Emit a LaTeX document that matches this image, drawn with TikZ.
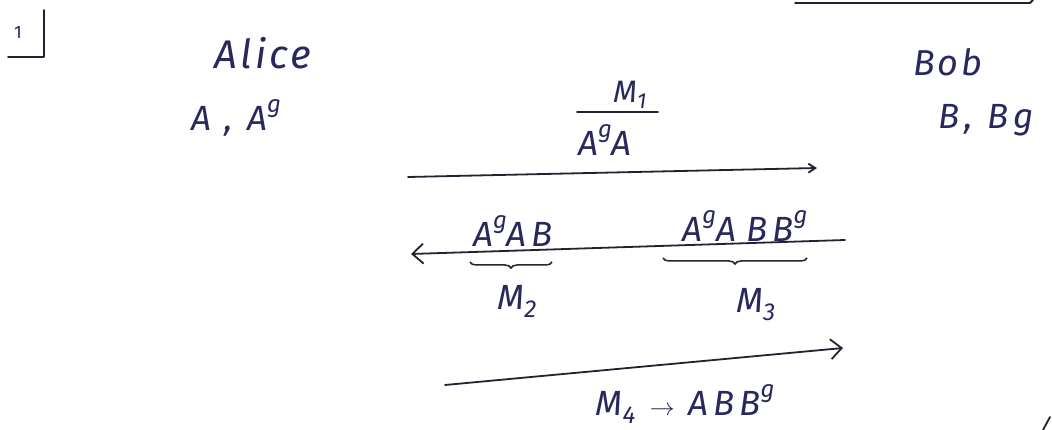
\documentclass[tikz,border=0pt]{standalone}
\usepackage{fontspec}
\setmainfont{Fira Sans}
\newfontfamily\handfont[LetterSpace=14]{Fira Sans}
\newfontfamily\namefont[LetterSpace=8]{Fira Sans}
\usetikzlibrary{arrows.meta,decorations.pathreplacing}
\definecolor{ink}{RGB}{40,40,92}
\definecolor{pen}{RGB}{34,34,48}
\tikzset{
  handtxt/.style={text=ink, font=\handfont\fontsize{35}{39}\selectfont\itshape, inner sep=0pt},
  whotxt/.style={text=ink, font=\namefont\fontsize{40}{44}\selectfont\itshape, inner sep=0pt},
  labtxt/.style={text=ink, font=\handfont\fontsize{31}{34}\selectfont\itshape, inner sep=0pt},
  stroke/.style={draw=pen, line width=1.8pt, line cap=round, line join=round},
  bigtip/.style={-{Straight Barb[length=11pt,width=20pt,line width=1.8pt]}},
  smalltip/.style={-{Straight Barb[length=7pt,width=9pt,line width=1.8pt]}},
  ubrace/.style={draw=pen, line width=1.5pt, decorate,
    decoration={brace,mirror,amplitude=6pt}},
}
% raised exponent, a little larger than a plain superscript
\newcommand{\sps}[1]{\raisebox{0.5em}{\fontsize{24}{26}\selectfont #1}}
\begin{document}
\begin{tikzpicture}[x=1pt,y=-1pt]
\useasboundingbox (0,0) rectangle (1052,430);
\fill[white] (0,0) rectangle (1052,430);

% question number with its corner mark
\node[text=ink, font=\fontsize{18}{20}\selectfont, inner sep=0pt] (num) at (18,32) {1};
\draw[stroke] (44,10) -- (44,57) -- (8,57);

% rule along the top edge
\draw[stroke] (795,3) -- (1030,3) -- (1033,0);

% the two parties and their keys
\node[whotxt] (alice) at (263,53) {Alice};
\node[handtxt] (akeys) at (236,118) {A , A\sps{g}};
\node[whotxt, font=\namefont\fontsize{36}{40}\selectfont\itshape] (bob) at (948,62) {Bob};
\node[handtxt] (bkeys) at (986,120) {B, Bg};

% message 1: Alice -> Bob
\node[labtxt] (m1) at (630,95) {M\textsubscript{1}};
\draw[stroke] (577,112) -- (658,112);
\node[handtxt] (m1msg) at (605,140) {A\sps{g}A};
\coordinate (a1s) at (408,177);
\coordinate (a1e) at (817,168);
\draw[stroke, smalltip] (a1s) -- (a1e);

% message 2: Bob -> Alice
\node[handtxt] (p2) at (513,231) {A\sps{g}AB};
\node[handtxt] (p3) at (745,226) {A\sps{g}A\hspace{0.3em}BB\sps{g}};
\coordinate (a2s) at (845,240);
\coordinate (a2e) at (411,254);
\draw[stroke, bigtip] (a2s) -- (a2e);
\draw[ubrace] (470,262) -- (552,262);
\draw[ubrace] (663,258) -- (807,258);
\node[handtxt] (m2) at (517,301) {M\textsubscript{2}};
\node[handtxt] (m3) at (756,305) {M\textsubscript{3}};

% message 3: Alice -> Bob
\coordinate (a3s) at (445,385);
\coordinate (a3e) at (843,348);
\draw[stroke, bigtip] (a3s) -- (a3e);
\node[handtxt] (m4) at (685,404) {M\textsubscript{4} $\rightarrow$ ABB\sps{g}};

% stray pen stroke in the corner
\draw[stroke] (1043,430) -- (1050,417);
\end{tikzpicture}
\end{document}
